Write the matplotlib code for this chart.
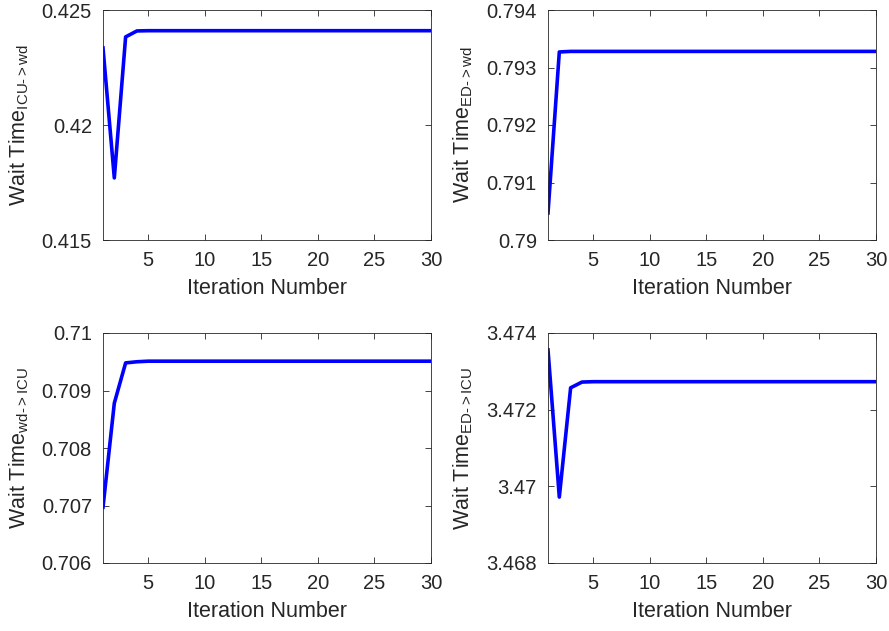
import matplotlib
matplotlib.use("Agg")
import matplotlib.pyplot as plt
import numpy as np

plt.rcParams['font.family'] = ['Liberation Sans', 'DejaVu Sans']
plt.rcParams['mathtext.fontset'] = 'custom'
plt.rcParams['mathtext.rm'] = 'Liberation Sans'
plt.rcParams['mathtext.it'] = 'Liberation Sans'

iterations = np.arange(1, 31)
icu_wd = [0.42335, 0.4177, 0.42383, 0.42409] + [0.4241] * 26
ed_wd = [0.79047, 0.79327] + [0.79328] * 28
wd_icu = [0.70697, 0.70878, 0.70948, 0.70950] + [0.70951] * 26
ed_icu = [3.47356, 3.46972, 3.47257, 3.47272] + [3.47273] * 26

series = [icu_wd, ed_wd, wd_icu, ed_icu]
ylabels = ['Wait Time$_{\\mathrm{ICU\u2010>wd}}$', 'Wait Time$_{\\mathrm{ED\u2010>wd}}$',
           'Wait Time$_{\\mathrm{wd\u2010>ICU}}$', 'Wait Time$_{\\mathrm{ED\u2010>ICU}}$']
ylims = [(0.415, 0.425), (0.79, 0.794), (0.706, 0.71), (3.468, 3.474)]
yticks = [[0.415, 0.42, 0.425], [0.79, 0.791, 0.792, 0.793, 0.794],
          [0.706, 0.707, 0.708, 0.709, 0.71], [3.468, 3.47, 3.472, 3.474]]
yticklabels = [['0.415', '0.42', '0.425'], ['0.79', '0.791', '0.792', '0.793', '0.794'],
               ['0.706', '0.707', '0.708', '0.709', '0.71'], ['3.468', '3.47', '3.472', '3.474']]
xticks = [5, 10, 15, 20, 25, 30]

fig = plt.figure(figsize=(8.89, 6.31), dpi=100)
W, H = 889, 631
boxes = [(103, 10), (548, 10), (103, 333), (548, 333)]
aw, ah = 328, 230
gray = '#262626'
for i, (x0, y0) in enumerate(boxes):
    ax = fig.add_axes([x0 / W, 1 - (y0 + ah) / H, aw / W, ah / H])
    ax.plot(iterations, series[i], color='#0000ff', linewidth=2.6)
    ax.set_xlim(1, 30)
    ax.set_ylim(*ylims[i])
    ax.set_xticks(xticks)
    ax.set_yticks(yticks[i])
    ax.set_yticklabels(yticklabels[i])
    ax.tick_params(direction='in', length=4, width=0.6, labelsize=14.5, colors=gray,
                   top=True, right=True, pad=8)
    for s in ax.spines.values():
        s.set_color(gray)
        s.set_linewidth(0.6)
    ax.set_xlabel('Iteration Number', fontsize=15.5, color=gray, labelpad=6)
    ax.set_ylabel(ylabels[i], fontsize=15.5, color=gray, labelpad=8)

fig.savefig('out.png', dpi=100)
